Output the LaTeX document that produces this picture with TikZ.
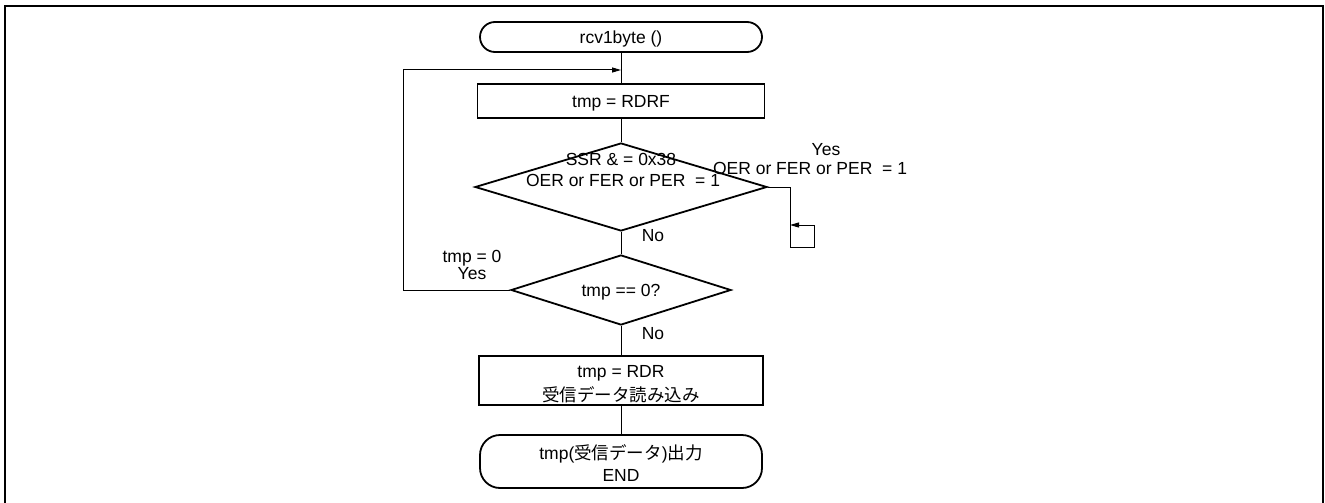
\documentclass[tikz,border=0pt]{standalone}
\usepackage{fontspec}
\setmainfont{Liberation Sans}
\newfontfamily\jp{Noto Sans CJK JP}
\usetikzlibrary{shapes.geometric,arrows.meta}
\begin{document}
\begin{tikzpicture}[x=1pt,y=-1pt,
  txt/.style={font=\fontsize{17.5}{21}\selectfont, inner sep=0pt, anchor=base},
  shp/.style={draw, line width=1.8pt, inner sep=0pt},
  term/.style={shp, rectangle, rounded corners=#1},
  proc/.style={shp, rectangle},
  dec/.style={shp, diamond},
  conn/.style={line width=1pt},
  arr/.style={conn, -{Triangle[length=9pt,width=5pt]}}]
\useasboundingbox (0,0) rectangle (1325,503);
\draw[line width=2pt] (5,503) -- (5,6) -- (1323,6) -- (1323,503);
% shapes
\node[term=15pt, minimum width=282pt, minimum height=30pt] (start) at (621,37) {};
\node[proc, minimum width=287pt, minimum height=34pt] (b1) at (621,101) {};
\node[dec, minimum width=292pt, minimum height=88pt] (d1) at (621,187) {};
\node[dec, minimum width=220pt, minimum height=70pt] (d2) at (621,290) {};
\node[proc, minimum width=284pt, minimum height=49pt] (b2) at (621,380.5) {};
\node[term=20pt, minimum width=282pt, minimum height=53pt] (end) at (621,461.5) {};
% texts
\node[txt] (tstart) at (621,43.5) {rcv1byte ()};
\node[txt] (tb1) at (621,107) {tmp = RDRF};
\node[txt] (td1a) at (621,165) {SSR \& = 0x38};
\node[txt] (td1b) at (623,186) {OER or FER or PER~ = 1};
\node[txt] (tyes1) at (826,155) {Yes};
\node[txt] (tyes1b) at (810,174) {OER or FER or PER~ = 1};
\node[txt] (tno1) at (653,241) {No};
\node[txt] (tyes2a) at (472,262) {tmp = 0};
\node[txt] (tyes2b) at (472,279) {Yes};
\node[txt] (td2) at (621,296) {tmp == 0?};
\node[txt] (tno2) at (653,339) {No};
\node[txt] (tb2a) at (621,377) {tmp = RDR};
\node[txt] (tb2b) at (621,401) {\jp 受信データ読み込み};
\node[txt] (tenda) at (621,459) {tmp({\jp 受信データ}){\jp 出力}};
\node[txt] (tendb) at (621,481) {END};
% connectors
\draw[conn] (start) -- (b1);
\draw[conn] (b1) -- (d1);
\draw[conn] (d1) -- (d2);
\draw[conn] (d2) -- (b2);
\draw[conn] (b2) -- (end);
\coordinate (lpc) at (403,70);
\coordinate (lpin) at (621,70);
\draw[arr] (d2.west) -| (lpc) -- (lpin);
\coordinate (ya) at (790,247);
\coordinate (yb) at (814,225);
\coordinate (yc) at (790,225);
\draw[arr] (d1.east) -| (ya) -| (yb) -- (yc);
\end{tikzpicture}
\end{document}
